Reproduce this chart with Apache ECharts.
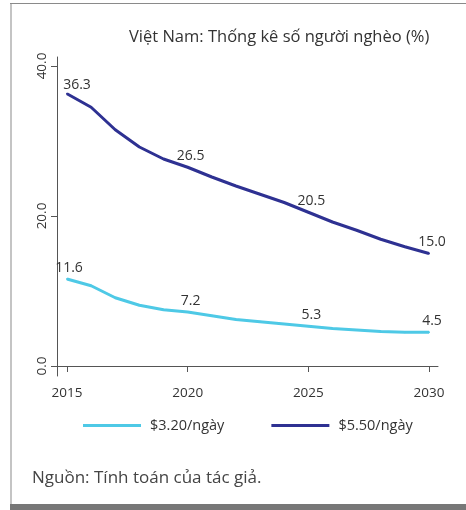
<!DOCTYPE html>
<html><head><meta charset="utf-8">
<script src="https://cdn.jsdelivr.net/npm/echarts@6/dist/echarts.min.js"></script>
<style>html,body{margin:0;padding:0;background:#fff}#c{width:466px;height:510px}</style>
</head><body><div id="c"></div>
<script>
const years = [2015,2016,2017,2018,2019,2020,2021,2022,2023,2024,2025,2026,2027,2028,2029,2030];
const low = [11.6,10.7,9.1,8.1,7.5,7.2,6.7,6.2,5.9,5.6,5.3,5.0,4.8,4.6,4.5,4.5];
const high = [36.3,34.5,31.5,29.2,27.6,26.5,25.2,24.0,22.9,21.8,20.5,19.2,18.1,16.9,15.9,15.0];
const labelYears = [2015,2020,2025,2030];
const xTicks = [2015,2020,2025,2030];
const yTicks = [0,20,40];
const seriesNames = ['$3.20/ngày','$5.50/ngày'];
const titleText = 'Việt Nam: Thống kê số người nghèo (%)';
const sourceText = 'Nguồn: Tính toán của tác giả.';

const FONT = 'Open Sans';
function build(vals, firstOffset){
  return years.map((y,i)=>{
    const item = {value:[y, vals[i]]};
    if (labelYears.includes(y)) {
      item.label = {show:true, position:'top', distance:3,
        offset: i===0 ? firstOffset : [3,0],
        formatter: v => v.value[1].toFixed(1)};
    }
    return item;
  });
}
const chart = echarts.init(document.getElementById('c'));
chart.setOption({
  animation:false,
  textStyle:{fontFamily:FONT},
  title:{text:titleText, left:124, top:24, textStyle:{fontSize:16.5, fontWeight:'normal', color:'#333', fontFamily:FONT}},
  grid:{left:57, right:28, top:57, bottom:134},
  xAxis:{type:'value', min:2014.586, max:2030.373,
    axisLine:{lineStyle:{color:'#555'}},
    axisTick:{customValues:xTicks, length:6, lineStyle:{color:'#555'}},
    axisLabel:{customValues:xTicks, color:'#333', fontSize:13.5, margin:10, formatter: v=>String(v)},
    splitLine:{show:false}},
  yAxis:{type:'value', min:-1.333, max:41.2,
    axisLine:{show:true, lineStyle:{color:'#555'}},
    axisTick:{show:true, customValues:yTicks, length:6, lineStyle:{color:'#555'}},
    axisLabel:{customValues:yTicks, rotate:90, color:'#333', fontSize:13.5, margin:8, formatter: v=>v.toFixed(1)},
    splitLine:{show:false}},
  legend:{left:78, top:413, itemWidth:58, itemHeight:3, itemGap:47, icon:'rect',
    textStyle:{fontSize:14.5, color:'#333', fontFamily:FONT, padding:[0,0,0,4]},
    data:seriesNames},
  series:[
    {name:seriesNames[0], type:'line', data:build(low,[2,0]), symbol:'circle', symbolSize:2,
      lineStyle:{width:3, color:'#4ec9e6'}, itemStyle:{color:'#4ec9e6'},
      label:{color:'#333', fontSize:14, fontFamily:FONT}},
    {name:seriesNames[1], type:'line', data:build(high,[10,2]), symbol:'circle', symbolSize:2,
      lineStyle:{width:3, color:'#2e3192'}, itemStyle:{color:'#2e3192'},
      label:{color:'#333', fontSize:14, fontFamily:FONT}}
  ],
  graphic:[
    {type:'rect', shape:{x:10, y:3, width:2, height:501}, style:{fill:'#c4c4c4'}, silent:true},
    {type:'rect', shape:{x:10, y:3, width:456, height:1}, style:{fill:'#8a8a8a'}, silent:true},
    {type:'rect', shape:{x:10, y:504, width:456, height:6}, style:{fill:'#777'}, silent:true},
    {type:'text', left:32, top:470, style:{text:sourceText, fontSize:17, fill:'#444', fontFamily:FONT}, silent:true}
  ]
});
</script></body></html>
